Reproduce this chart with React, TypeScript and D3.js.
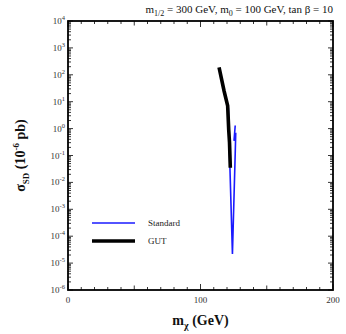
import React, { useEffect, useRef } from 'react';
import * as d3 from 'd3';

// curves: [m_chi (GeV), sigma_SD (1e-6 pb)]
const STANDARD: [number, number][] = [
  [121.0, 5.9],
  [121.6, 0.5],
  [121.9, 0.12],
  [124.1, 2.2e-5],
  [126.2, 0.12],
  [126.6, 0.7],
  [125.3, 0.35],
  [126.2, 1.3],
];
const GUT: [number, number][] = [
  [114.0, 190],
  [117.8, 25],
  [120.5, 7.0],
  [121.3, 0.9],
  [121.9, 0.3],
  [122.5, 0.035],
];
const X_TICKS = [0, 100, 200];
const Y_EXPONENTS = [4, 3, 2, 1, 0, -1, -2, -3, -4, -5, -6];
const LEGEND = [
  { label: 'Standard', color: '#1a1aff', width: 1.6, data: STANDARD },
  { label: 'GUT', color: '#000000', width: 3.6, data: GUT },
];

export default function App() {
  const svgRef = useRef<SVGSVGElement>(null);

  useEffect(() => {
    const width = 346;
    const height = 334;
    const margin = { top: 21, right: 13, bottom: 44, left: 68 };
    const innerW = width - margin.left - margin.right;
    const innerH = height - margin.top - margin.bottom;
    const font = '"Liberation Serif", "DejaVu Serif", serif';

    const svg = d3.select(svgRef.current);
    svg.selectAll('*').remove();
    svg.attr('width', width).attr('height', height).style('display', 'block')
      .style('position', 'absolute').style('left', '0px').style('top', '0px')
      .style('font-family', font);

    const x = d3.scaleLinear().domain([0, 200]).range([margin.left, margin.left + innerW]);
    const y = d3.scaleLog().domain([1e-6, 1e4]).range([margin.top + innerH, margin.top]);
    const x0 = margin.left, x1 = margin.left + innerW;
    const y0 = margin.top + innerH, y1 = margin.top;

    svg.append('rect').attr('width', width).attr('height', height).attr('fill', 'white');

    const g = svg.append('g').attr('stroke', '#000').attr('stroke-width', 0.8);

    // y ticks: major at decades, minor at 2..9 on both sides
    for (let e = -6; e <= 4; e++) {
      const yy = y(Math.pow(10, e));
      g.append('line').attr('x1', x0).attr('x2', x0 + 5).attr('y1', yy).attr('y2', yy);
      g.append('line').attr('x1', x1).attr('x2', x1 - 5).attr('y1', yy).attr('y2', yy);
      if (e < 4) {
        for (let k = 2; k <= 9; k++) {
          const ym = y(k * Math.pow(10, e));
          g.append('line').attr('x1', x0).attr('x2', x0 + 3).attr('y1', ym).attr('y2', ym);
          g.append('line').attr('x1', x1).attr('x2', x1 - 3).attr('y1', ym).attr('y2', ym);
        }
      }
    }

    // x ticks: minor every 10 GeV, major at labels
    d3.range(0, 201, 10).forEach(v => {
      const major = X_TICKS.includes(v);
      const len = major ? 6 : v % 50 === 0 ? 4.5 : 3;
      g.append('line').attr('x1', x(v)).attr('x2', x(v)).attr('y1', y0).attr('y2', y0 - len);
      g.append('line').attr('x1', x(v)).attr('x2', x(v)).attr('y1', y1).attr('y2', y1 + len);
    });

    // frame
    svg.append('rect').attr('x', x0).attr('y', y1).attr('width', innerW).attr('height', innerH)
      .attr('fill', 'none').attr('stroke', '#000').attr('stroke-width', 1.8);

    // y tick labels
    Y_EXPONENTS.forEach(e => {
      const t = svg.append('text').attr('x', x0 - 3).attr('y', y(Math.pow(10, e)) + 3)
        .attr('text-anchor', 'end').style('font-size', '9px').attr('fill', '#333');
      t.append('tspan').text('10');
      t.append('tspan').attr('dy', -4).style('font-size', '6.5px').text(String(e));
    });

    // x tick labels
    X_TICKS.forEach(v => {
      svg.append('text').attr('x', x(v)).attr('y', y0 + 13).attr('text-anchor', 'middle')
        .style('font-size', '9px').attr('fill', '#333').text(v);
    });

    // curves
    const line = d3.line<[number, number]>().x(d => x(d[0])).y(d => y(d[1]));
    svg.append('path').datum(STANDARD).attr('d', line).attr('fill', 'none')
      .attr('stroke', LEGEND[0].color).attr('stroke-width', LEGEND[0].width)
      .attr('stroke-linejoin', 'miter');
    svg.append('path').datum(GUT).attr('d', line).attr('fill', 'none')
      .attr('stroke', LEGEND[1].color).attr('stroke-width', LEGEND[1].width);

    // legend
    LEGEND.forEach((s, i) => {
      const ly = 223 + i * 18;
      svg.append('line').attr('x1', 92).attr('x2', 135).attr('y1', ly).attr('y2', ly)
        .attr('stroke', s.color).attr('stroke-width', s.width);
      svg.append('text').attr('x', 148).attr('y', ly + 3).style('font-size', '9px')
        .attr('fill', '#222').text(s.label);
    });

    // title
    const title = svg.append('text').attr('x', x1).attr('y', 13).attr('text-anchor', 'end')
      .style('font-size', '11px').attr('fill', '#111');
    title.append('tspan').text('m');
    title.append('tspan').attr('dy', 3).style('font-size', '8px').text('1/2');
    title.append('tspan').attr('dy', -3).text(' = 300 GeV, m');
    title.append('tspan').attr('dy', 3).style('font-size', '8px').text('0');
    title.append('tspan').attr('dy', -3).text(' = 100 GeV, tan \u03b2 = 10');

    // x axis label
    const xl = svg.append('text').attr('x', x(100)).attr('y', 325).attr('text-anchor', 'middle')
      .style('font-size', '14px').style('font-weight', 'bold').attr('fill', '#111');
    xl.append('tspan').text('m');
    xl.append('tspan').attr('dy', 4).style('font-size', '10px').text('\u03c7');
    xl.append('tspan').attr('dy', -4).text('  (GeV)');

    // y axis label
    const yl = svg.append('text').attr('transform', `translate(25,${(y0 + y1) / 2}) rotate(-90)`)
      .attr('text-anchor', 'middle').style('font-size', '14px').style('font-weight', 'bold')
      .attr('fill', '#111');
    yl.append('tspan').text('\u03c3');
    yl.append('tspan').attr('dy', 4).style('font-size', '9px').text('SD');
    yl.append('tspan').attr('dy', -4).text(' (10');
    yl.append('tspan').attr('dy', -6).style('font-size', '9px').text('-6');
    yl.append('tspan').attr('dy', 6).text(' pb)');
  }, []);

  return <svg ref={svgRef}></svg>;
}
